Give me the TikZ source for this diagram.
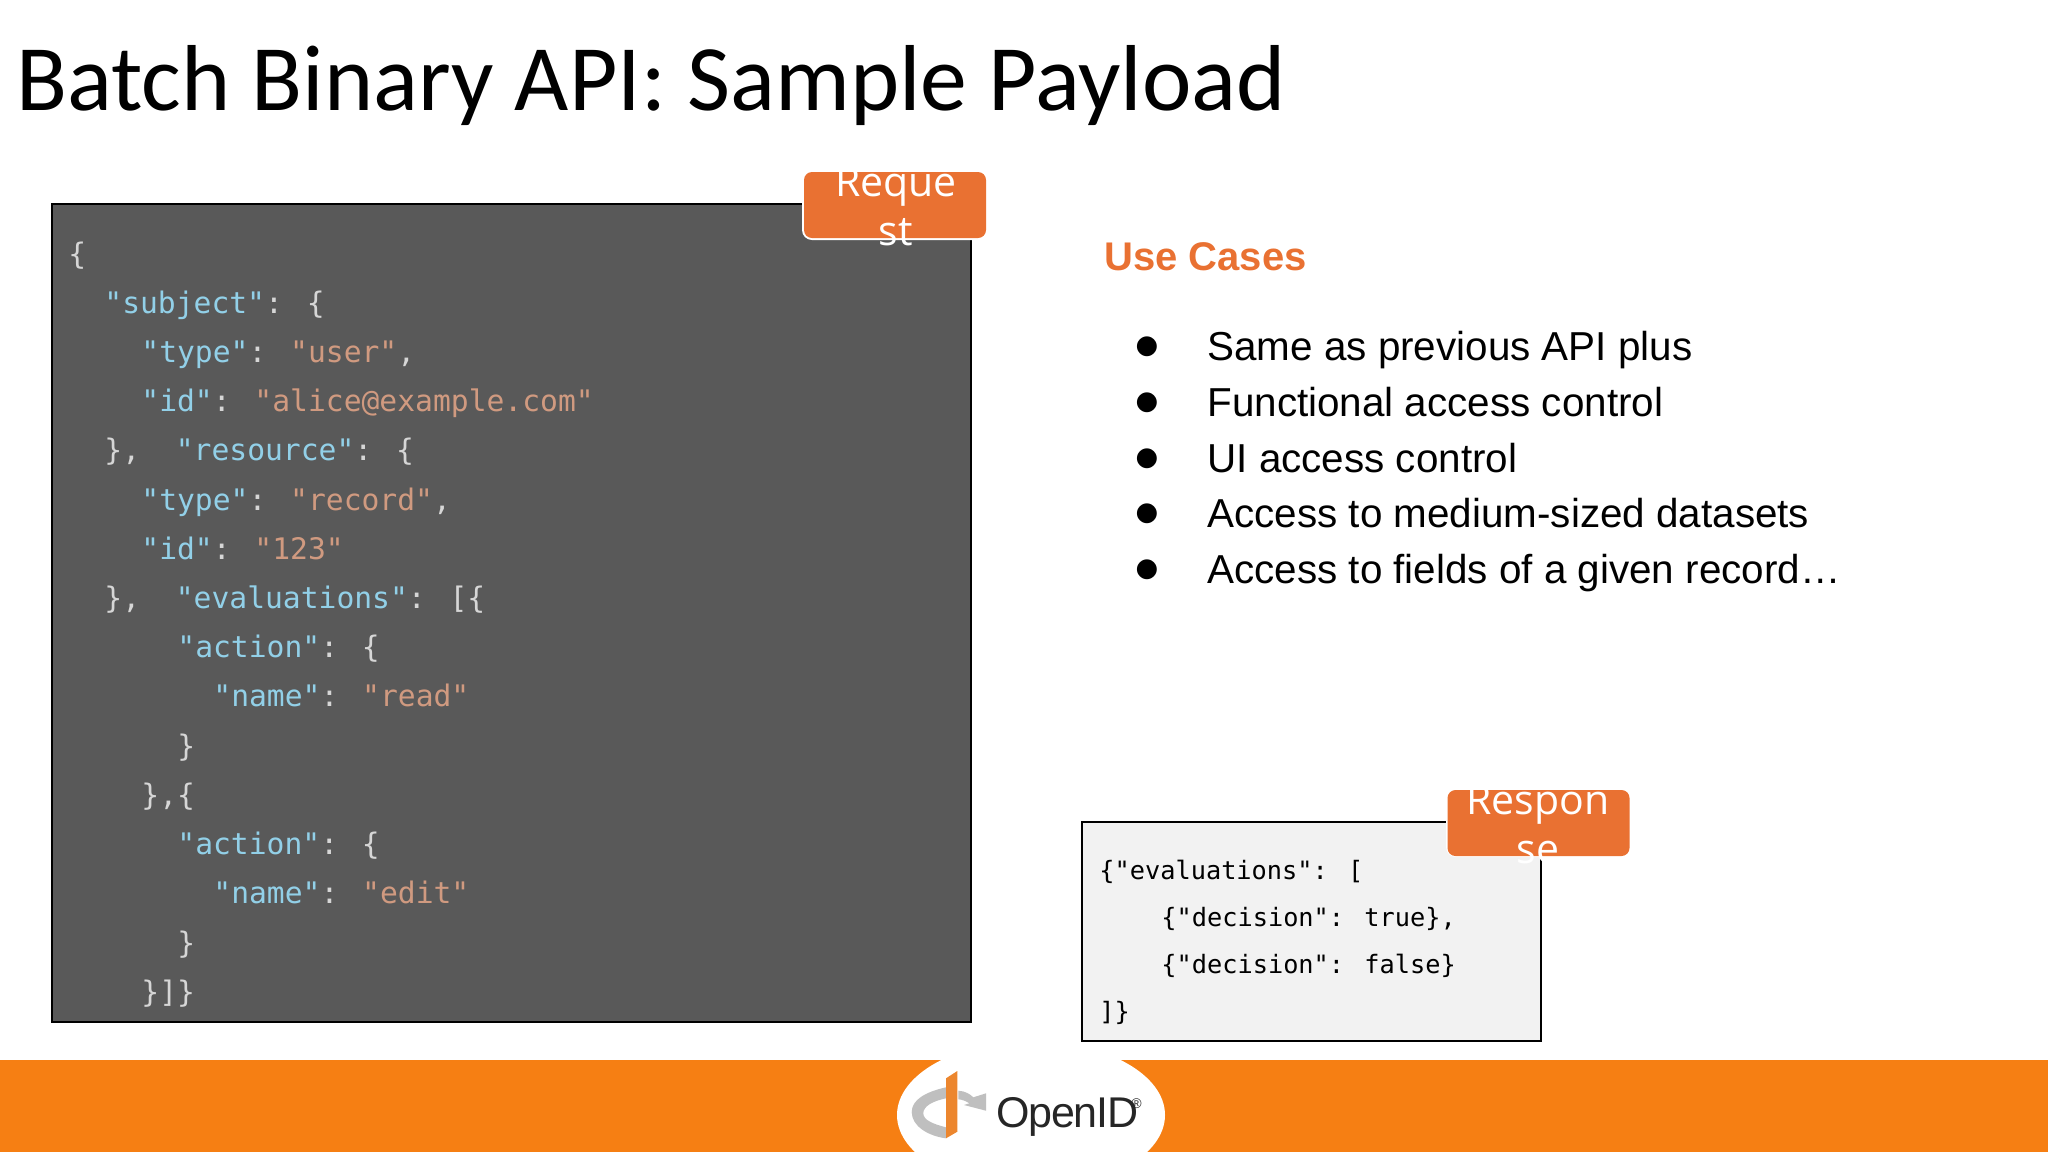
\documentclass[tikz,border=0pt]{standalone}
\usepackage{fontspec}
\setmainfont{Liberation Sans}
\newfontfamily\titlefont{Carlito}
\newfontfamily\badgefont{Open Sans}
\newfontfamily\codefont{DejaVu Sans Mono}
\newfontfamily\logofont[LetterSpace=-3]{Liberation Sans}
\newfontfamily\dotfont{DejaVu Sans}
\usetikzlibrary{positioning}

\definecolor{footorange}{HTML}{F67F13}
\definecolor{badgeorange}{HTML}{E97132}
\definecolor{logoorange}{HTML}{EC862E}
\definecolor{darkbox}{HTML}{595959}
\definecolor{lightbox}{HTML}{F2F2F2}
\definecolor{keyblue}{HTML}{92D0E8}
\definecolor{valsalmon}{HTML}{D09A80}
\definecolor{punctgray}{HTML}{D6D6D6}
\definecolor{logogray}{HTML}{BFBFBF}

\newcommand{\ck}[1]{\textcolor{keyblue}{#1}}
\newcommand{\cv}[1]{\textcolor{valsalmon}{#1}}

\tikzset{
  badgebox/.style={fill=badgeorange,rounded corners=4pt,inner sep=0pt,minimum width=91pt,minimum height=33pt},
  badgeedge/.style={fill=white,rounded corners=5pt,inner sep=0pt,minimum width=92pt,minimum height=34pt},
  badgetext/.style={text=white,inner sep=0pt,anchor=base,font=\badgefont\fontsize{20.5}{24}\selectfont},
  reqline/.style={anchor=base west,inner sep=0pt,text=punctgray,font=\codefont\fontsize{14.83}{18}\selectfont},
  respline/.style={anchor=base west,inner sep=0pt,text=black,font=\codefont\fontsize{12.65}{16}\selectfont},
  usetext/.style={anchor=base west,inner sep=0pt,font=\fontsize{20.2}{24}\selectfont},
  usedot/.style={anchor=base,inner sep=0pt,font=\dotfont\fontsize{13}{16}\selectfont}
}

\begin{document}
\begin{tikzpicture}[x=.5pt,y=-.5pt]
  \useasboundingbox (0,0) rectangle (2048,1152);

  % footer
  \fill[footorange] (0,1060) rectangle (2048,1152);
  \begin{scope}
    \clip (0,0) rectangle (2048,1152);
    \fill[white] (1031,1115) ellipse [x radius=134,y radius=74];
  \end{scope}
  \fill[logogray] (946,1087.3) .. controls (925,1092) and (911.7,1100) .. (911.7,1112)
    .. controls (911.7,1126) and (928,1136) .. (946,1138.3) -- (946,1127.3)
    .. controls (933,1124) and (923.3,1120) .. (923.3,1113.3)
    .. controls (923.3,1106) and (933,1101) .. (946,1098.3) -- cycle;
  \fill[logogray] (958.3,1090.7) .. controls (965,1091) and (970,1094) .. (973.3,1097.3)
    -- (986,1093.3) -- (986,1110.7) -- (964,1105) -- (969.3,1103.3)
    .. controls (966,1101) and (962,1099.5) .. (958.3,1099.3) -- cycle;
  \fill[logoorange] (946,1078.3) -- (957.3,1071) -- (957.3,1131.7) -- (946,1138.3) -- cycle;
  \node[anchor=base west,inner sep=0pt,font=\logofont\fontsize{21.5}{24}\selectfont,text=black!85] (logoname) at (996,1127) {OpenID};
  \node[anchor=base west,inner sep=0pt,font=\fontsize{7}{8}\selectfont,text=black!85] (logomark) at (1131,1108) {®};

  % title
  \node[anchor=base west,inner sep=0pt,font=\titlefont\fontsize{46.85}{56}\selectfont] (title) at (16,110) {Batch Binary API: Sample Payload};

  % request
  \draw[black,line width=1.2pt,fill=darkbox] (52,204) rectangle (971,1022);
  \begin{scope}[every node/.style={reqline}]
    \node (r1)  at (68,264)   {\{};
    \node (r2)  at (104,313)  {\ck{"subject"}: \{};
    \node (r3)  at (141,362)  {\ck{"type"}: \cv{"user"},};
    \node (r4)  at (141,411)  {\ck{"id"}: \cv{"alice@example.com"}};
    \node (r5)  at (104,460)  {\},~~\ck{"resource"}: \{};
    \node (r6)  at (141,510)  {\ck{"type"}: \cv{"record"},};
    \node (r7)  at (141,559)  {\ck{"id"}: \cv{"123"}};
    \node (r8)  at (104,608)  {\},~~\ck{"evaluations"}: [\{};
    \node (r9)  at (177,657)  {\ck{"action"}: \{};
    \node (r10) at (213,706)  {\ck{"name"}: \cv{"read"}};
    \node (r11) at (177,756)  {\}};
    \node (r12) at (141,805)  {\},\{};
    \node (r13) at (177,854)  {\ck{"action"}: \{};
    \node (r14) at (213,903)  {\ck{"name"}: \cv{"edit"}};
    \node (r15) at (177,953)  {\}};
    \node (r16) at (141,1002) {\}]\}};
  \end{scope}

  \node[badgeedge] (reqedge) at (894,206) {};
  \node[badgebox] (reqbadge) at (895,205) {};
  \begin{scope}
    \clip (804,172) rectangle (986,300);
    \node[badgetext] (reqtop) at (896,196) {Reque};
    \node[badgetext] (reqbot) at (896,245) {st};
  \end{scope}

  % use cases
  \node[usetext,text=badgeorange,font=\bfseries\fontsize{20}{24}\selectfont] (usehead) at (1104,270) {Use Cases};
  \begin{scope}[every node/.style={usetext}]
    \node (u1) at (1207,360) {Same as previous API plus};
    \node (u2) at (1207,416) {Functional access control};
    \node (u3) at (1207,472) {UI access control};
    \node (u4) at (1207,527) {Access to medium-sized datasets};
    \node (u5) at (1207,583) {Access to fields of a given record…};
  \end{scope}
  \begin{scope}[every node/.style={usedot}]
    \node (d1) at (1147,353) {●};
    \node (d2) at (1147,409) {●};
    \node (d3) at (1147,465) {●};
    \node (d4) at (1147,520) {●};
    \node (d5) at (1147,576) {●};
  \end{scope}

  % response
  \draw[black,line width=1.2pt,fill=lightbox] (1082,822) rectangle (1541,1041);
  \begin{scope}[every node/.style={respline}]
    \node (a1) at (1099,879)  {\{"evaluations": [};
    \node (a2) at (1161,926)  {\{"decision": true\},};
    \node (a3) at (1161,973)  {\{"decision": false\}};
    \node (a4) at (1099,1020) {]\}};
  \end{scope}

  \node[badgeedge] (respedge) at (1538,823) {};
  \node[badgebox] (respbadge) at (1538.5,823) {};
  \begin{scope}
    \clip (1448,790) rectangle (1629,900);
    \node[badgetext] (resptop) at (1538,814) {Respon};
    \node[badgetext] (respbot) at (1538,863) {se};
  \end{scope}
\end{tikzpicture}
\end{document}
